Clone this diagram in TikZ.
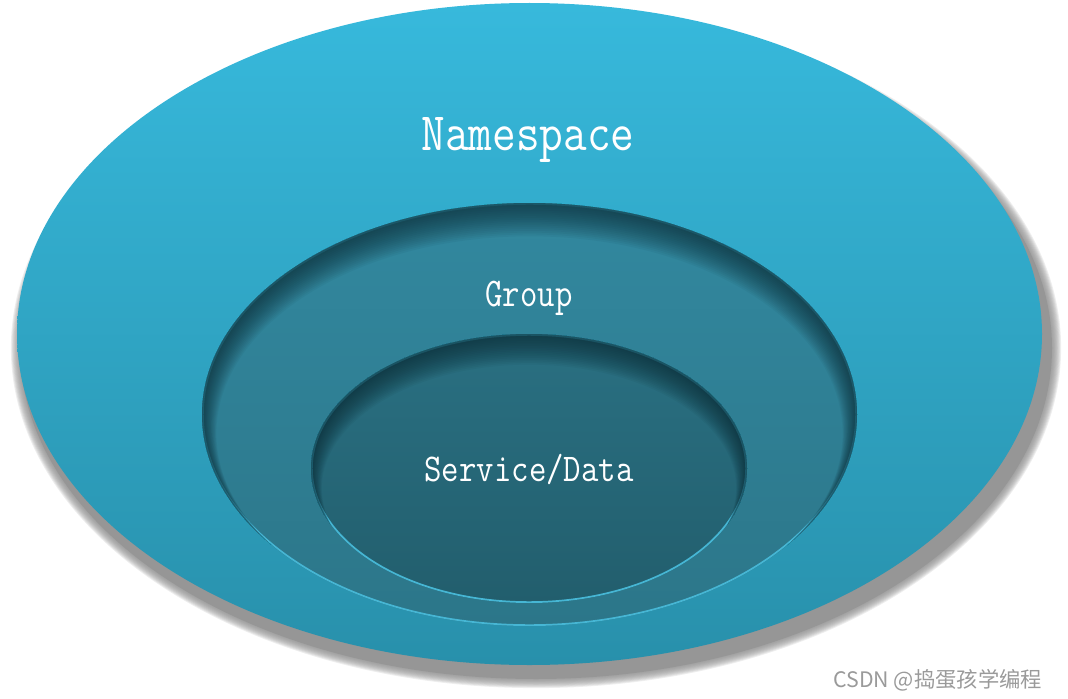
\documentclass[tikz,border=0pt]{standalone}
\usepackage{fontspec}
\newfontfamily\cjkfont{Noto Sans CJK SC}
\usepackage{graphicx}
\definecolor{outtop}{HTML}{37B9DC}
\definecolor{outbot}{HTML}{2890AB}
\definecolor{grptop}{HTML}{32889F}
\definecolor{grpbot}{HTML}{2C7689}
\definecolor{svctop}{HTML}{2A7082}
\definecolor{svcbot}{HTML}{225E6D}
\definecolor{rimcol}{HTML}{46B6D4}
\definecolor{inshadow}{HTML}{0B2A33}
\definecolor{dropsh}{HTML}{8A8A8A}
\definecolor{wmark}{HTML}{9A9A9A}
\tikzset{
  labeltext/.style={text=white, inner sep=0pt, anchor=base, font=\ttfamily},
  rim/.style={draw=rimcol, line width=2.6},
}
\begin{document}
\begin{tikzpicture}[x=0.75pt,y=-0.75pt]
\useasboundingbox (0,0) rectangle (1068,699);
% drop shadow of outer ellipse (blurred by layers)
\foreach \i in {0,...,9}{
  \fill[dropsh, opacity=0.14] (536,348) ellipse [x radius={517+0.9*\i}, y radius={332+0.9*\i}];
}
\fill[dropsh!90!white] (536,348) ellipse [x radius=516, y radius=331];
% outer ellipse
\shade[top color=outtop, bottom color=outbot] (529.5,334) ellipse [x radius=512.5, y radius=331];
% group ellipse
\shade[top color=grptop, bottom color=grpbot] (529.5,414.5) ellipse [x radius=327.5, y radius=211.5];
\begin{scope}
  \clip (529.5,414.5) ellipse [x radius=327.5, y radius=211.5];
  \draw[rim] (529.5,414.5) ellipse [x radius=327.5, y radius=211.5];
  \foreach \i in {1,...,18}{
    \fill[inshadow, opacity=0.055, even odd rule] (0,0) rectangle (1068,699)
      (529.5,{414.5+1.05*\i}) ellipse [x radius={327.5-0.8*\i}, y radius={211.5-0.8*\i}];
  }
\end{scope}
% service ellipse
\shade[top color=svctop, bottom color=svcbot] (529,468.5) ellipse [x radius=218, y radius=134.5];
\begin{scope}
  \clip (529,468.5) ellipse [x radius=218, y radius=134.5];
  \draw[rim] (529,468.5) ellipse [x radius=218, y radius=134.5];
  \foreach \i in {1,...,18}{
    \fill[inshadow, opacity=0.06, even odd rule] (0,0) rectangle (1068,699)
      (529,{468.5+1.1*\i}) ellipse [x radius={218-0.6*\i}, y radius={134.5-0.6*\i}];
  }
\end{scope}
% labels
\node[labeltext] (ns) at (528,151) {\scalebox{0.85}[1]{\fontsize{40.5}{42}\selectfont Namespace}};
\node[labeltext] (grp) at (529,306) {\scalebox{0.83}[1]{\fontsize{30.5}{32}\selectfont Group}};
\node[labeltext] (svc) at (529,481) {\scalebox{0.86}[1]{\fontsize{29.5}{31}\selectfont Service/Data}};
% watermark
\node[text=wmark, inner sep=0pt, anchor=base west, font=\cjkfont\fontsize{16}{17}\selectfont] (wm) at (833,687) {CSDN @捣蛋孩学编程};
\end{tikzpicture}
\end{document}
